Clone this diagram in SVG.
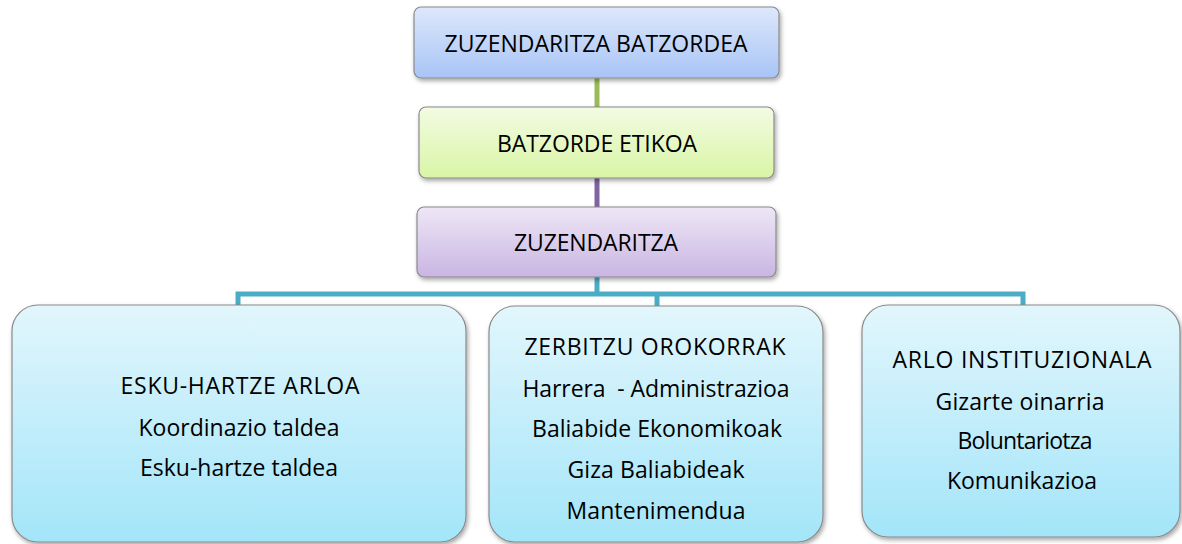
<svg xmlns="http://www.w3.org/2000/svg" width="1182" height="544" viewBox="0 0 1182 544">
<style>
.box{stroke:#8a8a8a;stroke-width:1.2;filter:url(#sh)}
.t{font-family:"Open Sans","Liberation Sans",sans-serif;font-size:23px;fill:#000;text-anchor:middle}
.c{fill:none;stroke-width:5;stroke-linecap:butt}
</style>
<defs>
<filter id="sh" x="-10%" y="-10%" width="125%" height="130%">
<feDropShadow dx="1.5" dy="2.5" stdDeviation="2" flood-color="#000" flood-opacity="0.35"/>
</filter>
<linearGradient id="gBlue" x1="0" y1="0" x2="0" y2="1"><stop offset="0" stop-color="#dde8fb"/><stop offset="1" stop-color="#a8c4f6"/></linearGradient>
<linearGradient id="gGreen" x1="0" y1="0" x2="0" y2="1"><stop offset="0" stop-color="#f3fbe2"/><stop offset="1" stop-color="#d9f5a6"/></linearGradient>
<linearGradient id="gPurple" x1="0" y1="0" x2="0" y2="1"><stop offset="0" stop-color="#eee7f6"/><stop offset="1" stop-color="#c9b5e2"/></linearGradient>
<linearGradient id="gCyan" x1="0" y1="0" x2="0" y2="1"><stop offset="0" stop-color="#e2f6fc"/><stop offset="1" stop-color="#a3e5f9"/></linearGradient>
</defs>
<g id="connectors">
<path class="c" stroke="#9bbb59" d="M597 78V108"/>
<path class="c" stroke="#8064a2" d="M597 178V208"/>
<path class="c" stroke="#4bacc6" d="M597 277V294"/>
<path class="c" stroke="#4bacc6" d="M238 307V294H1023V307"/>
<path class="c" stroke="#4bacc6" d="M657 294V307"/>
</g>
<g id="n1">
<rect class="box" x="414" y="7" width="365" height="71" rx="7" fill="url(#gBlue)"/>
<text class="t" x="596" y="52" textLength="303">ZUZENDARITZA BATZORDEA</text>
</g>
<g id="n2">
<rect class="box" x="419" y="107" width="355" height="71" rx="7" fill="url(#gGreen)"/>
<text class="t" x="597" y="152" textLength="200">BATZORDE ETIKOA</text>
</g>
<g id="n3">
<rect class="box" x="417" y="207" width="359" height="70" rx="7" fill="url(#gPurple)"/>
<text class="t" x="596" y="251" textLength="164">ZUZENDARITZA</text>
</g>
<g id="n4">
<rect class="box" x="12" y="305" width="454" height="237" rx="26" fill="url(#gCyan)"/>
<text class="t" x="240" y="394" textLength="239">ESKU-HARTZE ARLOA</text>
<text class="t" x="239" y="436" textLength="201">Koordinazio taldea</text>
<text class="t" x="239" y="476" textLength="198">Esku-hartze taldea</text>
</g>
<g id="n5">
<rect class="box" x="489" y="306" width="334" height="236" rx="26" fill="url(#gCyan)"/>
<text class="t" x="655" y="355" textLength="261">ZERBITZU OROKORRAK</text>
<text class="t" x="656" y="397" textLength="267" xml:space="preserve">Harrera  - Administrazioa</text>
<text class="t" x="657" y="437" textLength="250">Baliabide Ekonomikoak</text>
<text class="t" x="656" y="478" textLength="177">Giza Baliabideak</text>
<text class="t" x="656" y="519" textLength="179">Mantenimendua</text>
</g>
<g id="n6">
<rect class="box" x="862" y="305" width="318" height="232" rx="26" fill="url(#gCyan)"/>
<text class="t" x="1022" y="368" textLength="259">ARLO INSTITUZIONALA</text>
<text class="t" x="1020" y="410" textLength="169">Gizarte oinarria</text>
<text class="t" x="1025" y="449" textLength="135">Boluntariotza</text>
<text class="t" x="1022" y="489" textLength="150">Komunikazioa</text>
</g>
</svg>
